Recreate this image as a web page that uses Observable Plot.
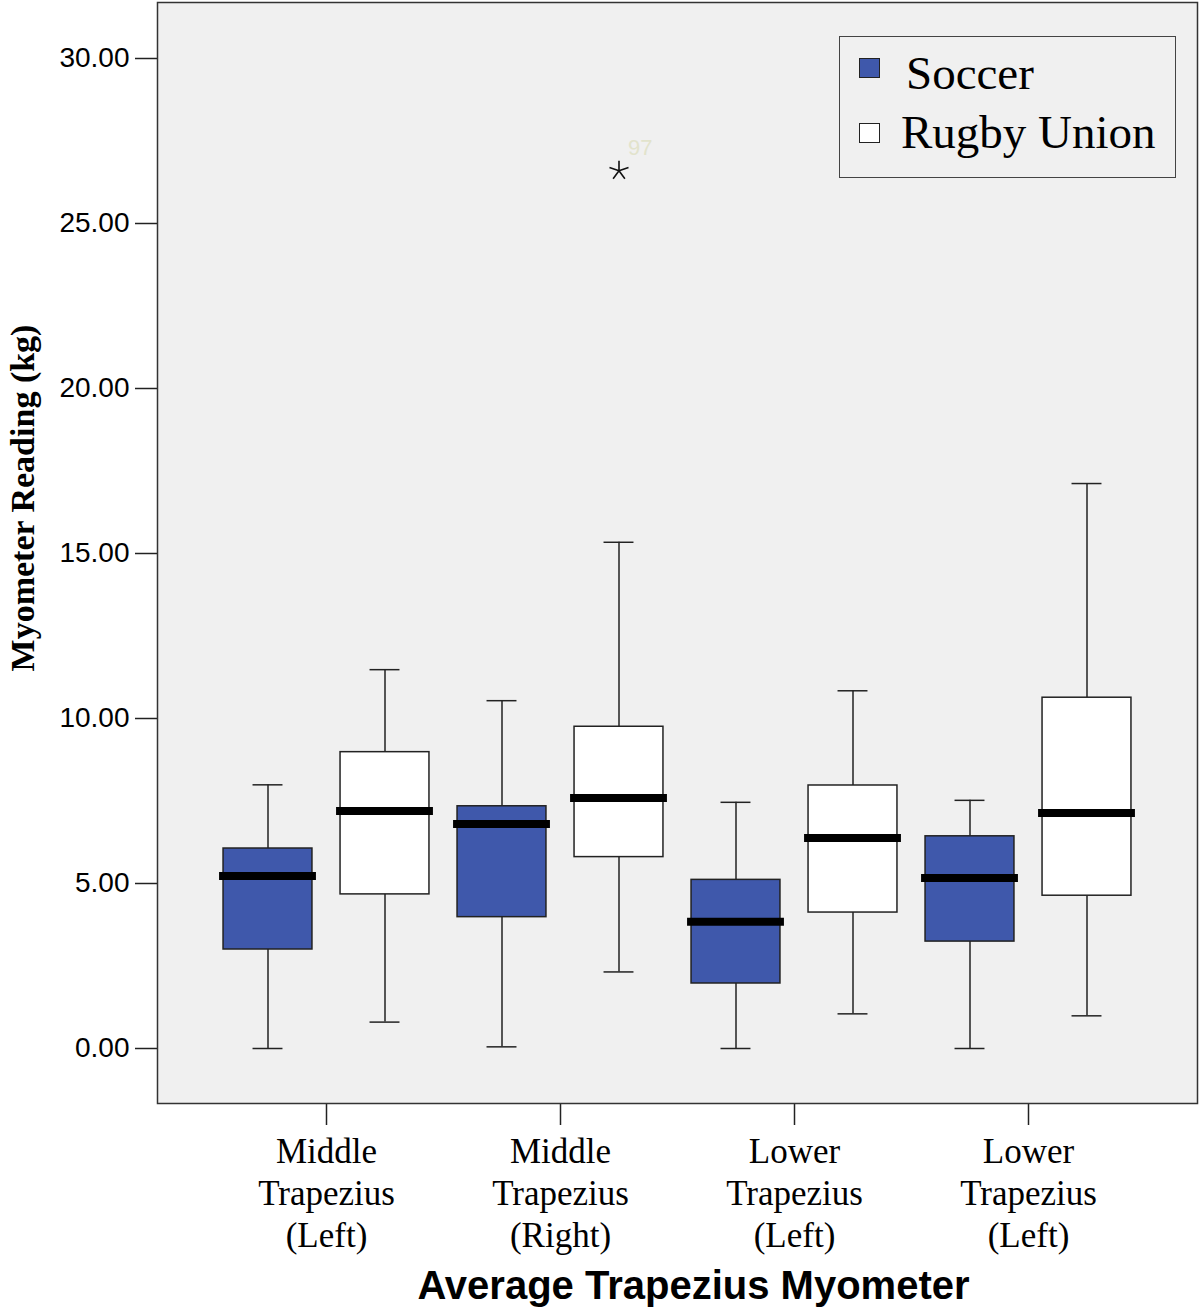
<!DOCTYPE html>
<html>
<head>
<meta charset="utf-8">
<script src="https://cdn.jsdelivr.net/npm/d3@7"></script>
<script src="https://cdn.jsdelivr.net/npm/@observablehq/plot@0.6"></script>
<style>
  html, body { margin: 0; padding: 0; background: #ffffff; }
  #wrap { position: relative; width: 1200px; height: 1307px; }
  #legend {
    position: absolute; left: 839px; top: 36px; width: 337px; height: 142px;
    box-sizing: border-box; border: 1.5px solid #444; background: #f0f0f0;
    font-family: "Liberation Serif", "Times New Roman", serif; font-size: 47px; color: #000;
  }
  #legend .sw { position: absolute; width: 21px; height: 20px; border: 1px solid #222; box-sizing: border-box; }
  #legend .lb { position: absolute; line-height: 47px; white-space: nowrap; }
</style>
</head>
<body>
<div id="wrap"></div>
<script>
// ---- data ----
const categories = [
  "Middle\nTrapezius\n(Left)",
  "Middle\nTrapezius\n(Right)",
  "Lower\nTrapezius\n(Left)",
  "Lower\nTrapezius\n(Left)"
];
const groups = ["Soccer", "Rugby Union"];
const groupColors = ["#3f58ab", "#ffffff"];

const soccerMin    = [0.00, 0.05, 0.00, 0.00];
const soccerQ1     = [3.00, 3.98, 1.97, 3.24];
const soccerMedian = [5.23, 6.80, 3.84, 5.17];
const soccerQ3     = [6.06, 7.34, 5.11, 6.43];
const soccerMax    = [7.99, 10.54, 7.46, 7.52];

const rugbyMin    = [0.80, 2.32, 1.05, 0.99];
const rugbyQ1     = [4.67, 5.80, 4.12, 4.63];
const rugbyMedian = [7.20, 7.59, 6.38, 7.14];
const rugbyQ3     = [8.98, 9.75, 7.97, 10.63];
const rugbyMax    = [11.48, 15.34, 10.84, 17.12];

const outlierCategory = [2];          // 1-based category index
const outlierGroup    = ["Rugby Union"];
const outlierValue    = [26.6];
const outlierLabel    = ["97"];

const yTicks = [0, 5, 10, 15, 20, 25, 30];
const yTitle = "Myometer Reading (kg)";
const xTitle = "Average Trapezius Myometer";

// ---- layout helpers ----
const groupOffset = {"Soccer": -0.25, "Rugby Union": 0.25};
const boxHalf = 0.19, medHalf = 0.207, capHalf = 0.064;

const rows = [];
categories.forEach((c, i) => {
  rows.push({group: "Soccer", pos: i + 1 + groupOffset["Soccer"],
    min: soccerMin[i], q1: soccerQ1[i], median: soccerMedian[i], q3: soccerQ3[i], max: soccerMax[i]});
  rows.push({group: "Rugby Union", pos: i + 1 + groupOffset["Rugby Union"],
    min: rugbyMin[i], q1: rugbyQ1[i], median: rugbyMedian[i], q3: rugbyQ3[i], max: rugbyMax[i]});
});
const outliers = outlierValue.map((v, k) => ({
  pos: outlierCategory[k] + groupOffset[outlierGroup[k]], value: v, label: outlierLabel[k]
}));

const star5 = {
  draw(context, size) {
    const r = Math.sqrt(size / Math.PI);
    for (let k = 0; k < 5; k++) {
      const a = 2 * Math.PI * k / 5;
      context.moveTo(0, 0);
      context.lineTo(r * Math.sin(a), -r * Math.cos(a));
    }
  }
};

const serif = "Liberation Serif, Times New Roman, serif";
const sans = "Liberation Sans, Arial, Helvetica, sans-serif";

const chart = Plot.plot({
  width: 1200,
  height: 1307,
  marginLeft: 157,
  marginRight: 3,
  marginTop: 2,
  marginBottom: 204,
  style: {background: "#ffffff", fontFamily: sans, color: "#000", overflow: "visible"},
  x: {domain: [1 - 169 / 234, 4 + 169 / 234]},
  y: {domain: [-55 / 33, 30 + 56 / 33]},
  color: {domain: groups, range: groupColors},
  marks: [
    Plot.frame({fill: "#f0f0f0", stroke: null}),
    Plot.ruleX(rows, {x: "pos", y1: "q3", y2: "max", stroke: "#222", strokeWidth: 1.5}),
    Plot.ruleX(rows, {x: "pos", y1: "min", y2: "q1", stroke: "#222", strokeWidth: 1.5}),
    Plot.ruleY(rows, {y: "max", x1: d => d.pos - capHalf, x2: d => d.pos + capHalf, stroke: "#222", strokeWidth: 1.5}),
    Plot.ruleY(rows, {y: "min", x1: d => d.pos - capHalf, x2: d => d.pos + capHalf, stroke: "#222", strokeWidth: 1.5}),
    Plot.rect(rows, {x1: d => d.pos - boxHalf, x2: d => d.pos + boxHalf, y1: "q1", y2: "q3",
      fill: "group", stroke: "#222", strokeWidth: 1.5}),
    Plot.ruleY(rows, {y: "median", x1: d => d.pos - medHalf, x2: d => d.pos + medHalf, stroke: "#000", strokeWidth: 8}),
    Plot.dot(outliers, {x: "pos", y: "value", symbol: star5, r: 10, stroke: "#111", strokeWidth: 1.6}),
    Plot.text(outliers, {x: "pos", y: "value", text: "label", textAnchor: "start", dx: 9, dy: -23,
      fill: "#e2e3cc", fontSize: 22, fontFamily: sans}),
    Plot.axisY({ticks: yTicks, tickFormat: d => d.toFixed(2), tickSize: 22, tickPadding: 6,
      fontSize: 28, fontFamily: sans, label: null, stroke: "#222", strokeWidth: 1.5}),
    Plot.axisX({ticks: [1, 2, 3, 4], tickFormat: i => categories[i - 1], tickSize: 22, tickPadding: 8,
      fontSize: 35, fontFamily: serif, lineHeight: 1.2, label: null, stroke: "#222", strokeWidth: 1.5}),
    Plot.text([yTitle], {text: d => d, frameAnchor: "left", rotate: -90, dx: -124, dy: -55,
      lineAnchor: "bottom", textAnchor: "middle", fontSize: 34, fontWeight: "bold", fontFamily: serif, fill: "#000"}),
    Plot.text([xTitle], {text: d => d, frameAnchor: "bottom", dx: 16, dy: 195,
      lineAnchor: "bottom", textAnchor: "middle", fontSize: 40, fontWeight: "bold", fontFamily: sans, fill: "#000"}),
    Plot.frame({stroke: "#333", strokeWidth: 1.5})
  ]
});

const wrap = document.getElementById("wrap");
wrap.appendChild(chart);

// legend
const legend = document.createElement("div");
legend.id = "legend";
const legendTops = [{sw: 21, lb: 13, lx: 66}, {sw: 86, lb: 72, lx: 61}];
groups.forEach((g, k) => {
  const sw = document.createElement("div");
  sw.className = "sw";
  sw.style.left = "19px";
  sw.style.top = legendTops[k].sw + "px";
  sw.style.background = groupColors[k];
  legend.appendChild(sw);
  const lb = document.createElement("div");
  lb.className = "lb";
  lb.style.left = legendTops[k].lx + "px";
  lb.style.top = legendTops[k].lb + "px";
  lb.textContent = g;
  legend.appendChild(lb);
});
wrap.appendChild(legend);
</script>
</body>
</html>
